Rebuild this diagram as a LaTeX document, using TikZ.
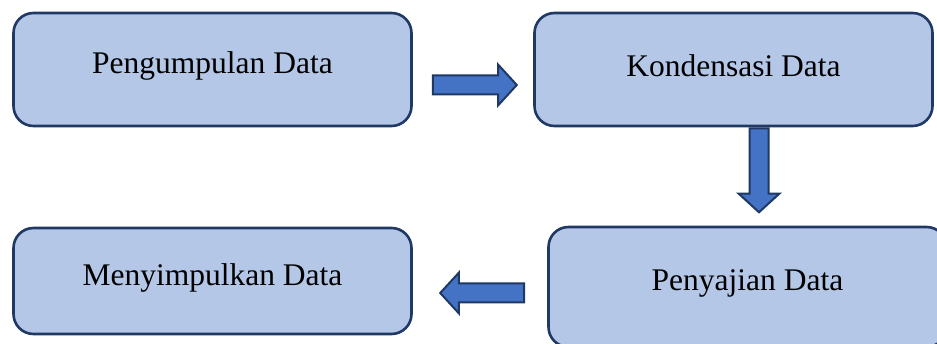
\documentclass[tikz,border=0pt]{standalone}
\usepackage{fontspec}
\setmainfont{Liberation Serif}
\usetikzlibrary{shapes.arrows,calc,positioning}
\definecolor{BoxFill}{HTML}{B4C7E7}
\definecolor{BoxLine}{HTML}{1F3864}
\definecolor{ArrowFill}{HTML}{4472C4}

\tikzset{
  stagebox/.style={draw=BoxLine,line width=2.6pt,fill=BoxFill,rounded corners=20pt,
    inner sep=0pt,minimum width=398pt},
  stagetext/.style={font=\fontsize{31.5}{36}\selectfont,inner sep=0pt},
  blockarrow/.style={single arrow,draw=BoxLine,line width=2pt,fill=ArrowFill,
    inner sep=8.5pt,minimum height=84pt,single arrow head extend=11pt,
    single arrow tip angle=95,single arrow head indent=0pt,anchor=tail}
}

\begin{document}
\begin{tikzpicture}[x=1pt,y=-1pt]
      \useasboundingbox (0,0) rectangle (937,344);
      \begin{scope}
      \clip (0,0) rectangle (937,344);
      \node[stagebox,minimum height=113pt] (kumpul) at (212.5,69.5) {};
      \node[stagebox,minimum height=113pt] (kondens) at (733.5,69.5) {};
      \node[stagebox,minimum height=120pt] (saji) at (747.5,287) {};
      \node[stagebox,minimum height=106pt] (simpul) at (212.5,281) {};
      \end{scope}
      \node[stagetext] at ([yshift=3.5pt]kumpul.center) {Pengumpulan Data};
      \node[stagetext] at ([yshift=3.5pt]kondens.center) {Kondensasi Data};
      \node[stagetext] at ([yshift=4pt]saji.center) {Penyajian Data};
      \node[stagetext] at ([yshift=3pt]simpul.center) {Menyimpulkan Data};
      % panah antar tahap
      \node[blockarrow] (panah1) at ([xshift=19pt,yshift=-15.5pt]kumpul.east) {};
      \node[blockarrow,rotate=-90] (panah2) at ([xshift=25.5pt]kondens.south) {};
      \node[blockarrow,rotate=180] (panah3) at ([xshift=-22pt,yshift=-6pt]saji.west) {};
    \end{tikzpicture}
\end{document}
